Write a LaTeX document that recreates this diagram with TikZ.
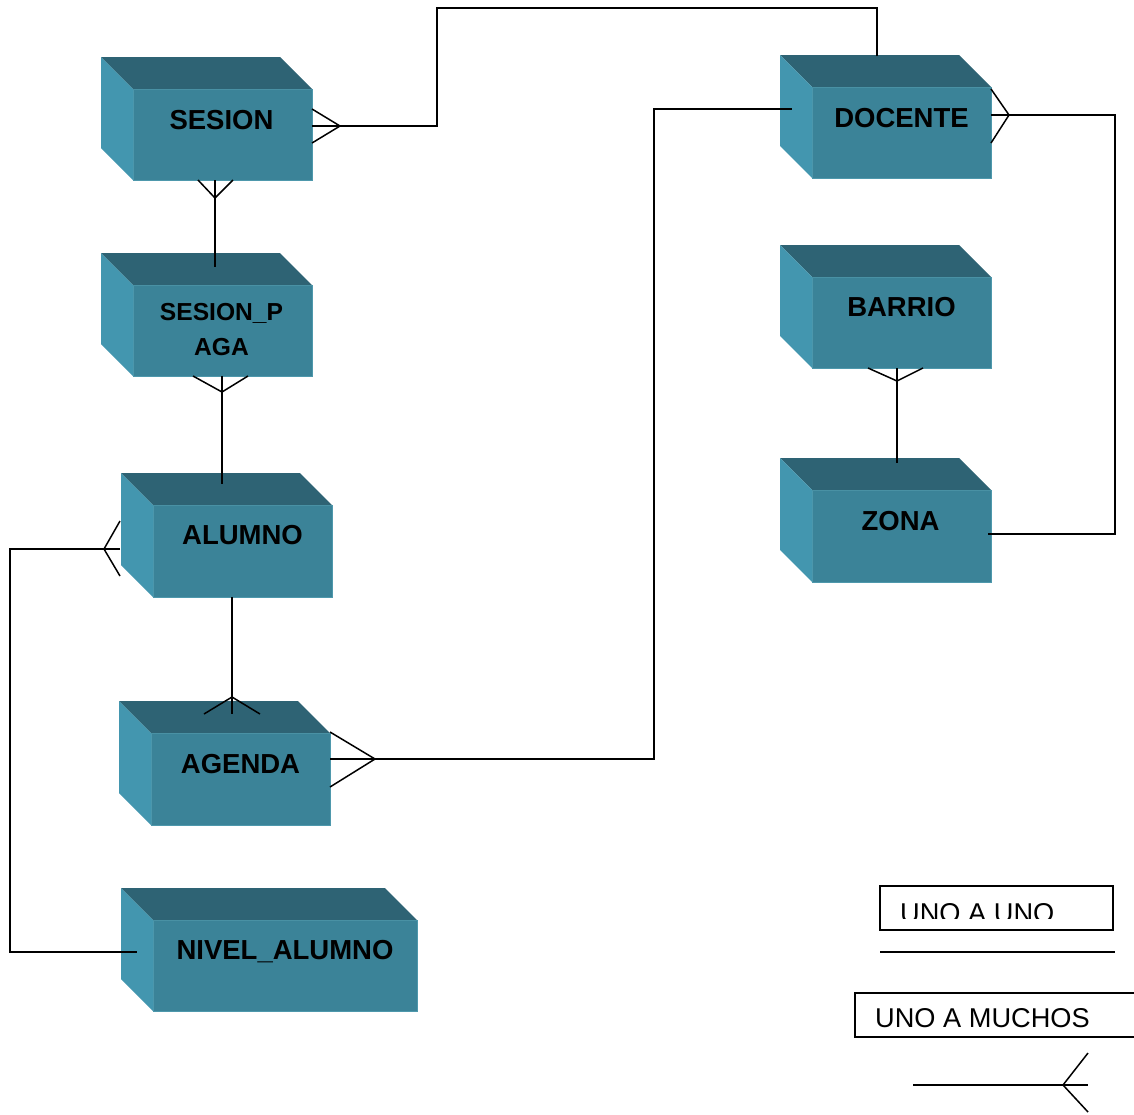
\documentclass[tikz,border=0pt]{standalone}
\usepackage{fontspec}
\setmainfont{Liberation Sans}
\usetikzlibrary{calc}
\definecolor{cubetop}{RGB}{46,99,116}
\definecolor{cubefront}{RGB}{59,131,152}
\definecolor{cubeside}{RGB}{67,150,175}
\definecolor{cubeedge}{RGB}{78,152,172}
\newcommand{\erbox}[5]{%
  \node[front, minimum width={(#4-#2)*1pt}, minimum height={(#5-#3)*1pt}] (#1) at ({(#2+#4)/2},{(#3+#5)/2}) {};
  \fill[cubetop] (#1.north west) -- ++(-32,-32) -- ($(#1.north east)+(-32,-32)$) -- (#1.north east) -- cycle;
  \fill[cubeside] (#1.north west) -- ++(-32,-32) -- ($(#1.south west)+(-32,-32)$) -- (#1.south west) -- cycle;
}
\begin{document}
\begin{tikzpicture}[x=1pt,y=-1pt,
  front/.style={fill=cubefront, draw=cubeedge, line width=1pt, inner sep=0pt, outer sep=0pt},
  lab/.style={font=\fontsize{27.5}{31}\selectfont\bfseries, inner sep=0pt, anchor=base},
  smalllab/.style={font=\fontsize{24.6}{29}\selectfont\bfseries, inner sep=0pt, anchor=base},
  rel/.style={line width=1.5pt, black, line join=miter},
  legbox/.style={draw, line width=1.2pt, inner sep=0pt, outer sep=0pt},
  legtext/.style={font=\fontsize{27.2}{30}\selectfont, inner sep=0pt, anchor=base west}]
\useasboundingbox (0,0) rectangle (1134,1114);

% entities
\erbox{sesion}{133}{89}{312}{180}
\erbox{paga}{133}{285}{312}{376}
\erbox{alumno}{153}{505}{332}{597}
\erbox{agenda}{151}{733}{330}{825}
\erbox{nivel}{153}{920}{417}{1011}
\erbox{docente}{812}{87}{991}{178}
\erbox{barrio}{812}{277}{991}{368}
\erbox{zona}{812}{490}{991}{582}

% labels
\node[lab] (tsesion) at ($(sesion.north)+(-1,40)$) {SESION};
\node[smalllab] (tpaga1) at ($(paga.north)+(-1,35)$) {SESION\_P};
\node[smalllab] (tpaga2) at ($(paga.north)+(-1,70)$) {AGA};
\node[lab] (talumno) at ($(alumno.north)+(0,39)$) {ALUMNO};
\node[lab] (tagenda) at ($(agenda.north)+(0,40)$) {AGENDA};
\node[lab] (tnivel) at ($(nivel.north)+(0,39)$) {NIVEL\_ALUMNO};
\node[lab] (tdocente) at ($(docente.north)+(0,40)$) {DOCENTE};
\node[lab] (tbarrio) at ($(barrio.north)+(0,39)$) {BARRIO};
\node[lab] (tzona) at ($(zona.north)+(-1,40)$) {ZONA};

% SESION - DOCENTE
\draw[rel] ($(sesion.north east)+(0,37)$) -- (437,126) -- (437,8) -- (877,8) -- ($(docente.north west)+(65,-31)$);
\draw[rel] ($(sesion.north east)+(0,20)$) -- ($(sesion.north east)+(28,37)$) -- ($(sesion.north east)+(0,54)$);

% SESION - SESION_PAGA
\draw[rel] ($(sesion.south)+(-7.5,0)$) -- ($(paga.north)+(-7.5,-18)$);
\draw[rel] ($(sesion.south)+(-24.5,0)$) -- ($(sesion.south)+(-7.5,18)$) -- ($(sesion.south)+(10.5,0)$);

% SESION_PAGA - ALUMNO
\draw[rel] ($(paga.south)+(-0.5,0)$) -- ($(alumno.north)+(-20.5,-21)$);
\draw[rel] ($(paga.south)+(-29.5,0)$) -- ($(paga.south)+(-0.5,16)$) -- ($(paga.south)+(25.5,0)$);

% ALUMNO - NIVEL_ALUMNO
\draw[rel] ($(alumno.north west)+(-33,44)$) -- (10,549) -- (10,952) -- ($(nivel.north west)+(-16,32)$);
\draw[rel] ($(alumno.north west)+(-33,16)$) -- ($(alumno.north west)+(-49,44)$) -- ($(alumno.north west)+(-33,71)$);

% ALUMNO - AGENDA
\draw[rel] ($(alumno.south)+(-10.5,0)$) -- ($(agenda.north)+(-8.5,-19)$);
\draw[rel] ($(agenda.north)+(-36.5,-19)$) -- ($(agenda.north)+(-8.5,-36)$) -- ($(agenda.north)+(19.5,-19)$);

% AGENDA - DOCENTE
\draw[rel] ($(agenda.north east)+(0,26)$) -- (654,759) -- (654,109) -- ($(docente.north west)+(-20,22)$);
\draw[rel] ($(agenda.north east)+(0,-1)$) -- ($(agenda.north east)+(45,26)$) -- ($(agenda.north east)+(0,54)$);

% DOCENTE - ZONA
\draw[rel] ($(docente.north east)+(0,28)$) -- (1115,115) -- (1115,534) -- ($(zona.north east)+(-3,44)$);
\draw[rel] ($(docente.north east)+(0,2)$) -- ($(docente.north east)+(18,28)$) -- ($(docente.north east)+(0,56)$);

% BARRIO - ZONA
\draw[rel] ($(barrio.south)+(-4.5,0)$) -- ($(zona.north)+(-4.5,-27)$);
\draw[rel] ($(barrio.south)+(-33.5,0)$) -- ($(barrio.south)+(-4.5,13)$) -- ($(barrio.south)+(21.5,0)$);

% legend
\node[legbox, minimum width=233pt, minimum height=44pt] (leg1) at (996.5,908) {};
\begin{scope}
  \clip (leg1.north west) rectangle ($(leg1.south east)+(0,-12)$);
  \node[legtext] (leg1t) at ($(leg1.north west)+(20,36)$) {UNO A UNO};
\end{scope}
\coordinate (l1a) at (880,952);
\coordinate (l1b) at (1115,952);
\draw[rel] (l1a) -- (l1b);

\node[legbox, minimum width=285pt, minimum height=44pt] (leg2) at (997.5,1015) {};
\begin{scope}
  \clip (leg2.north west) rectangle ($(leg2.south east)+(0,-10)$);
  \node[legtext] (leg2t) at ($(leg2.north west)+(20,34)$) {UNO A MUCHOS};
\end{scope}
\coordinate (l2a) at (913,1085);
\coordinate (l2b) at (1088,1085);
\coordinate (l2c) at (1063,1085);
\draw[rel] (l2a) -- (l2b);
\draw[rel] (1088,1053) -- (l2c) -- (1088,1112);
\end{tikzpicture}
\end{document}
